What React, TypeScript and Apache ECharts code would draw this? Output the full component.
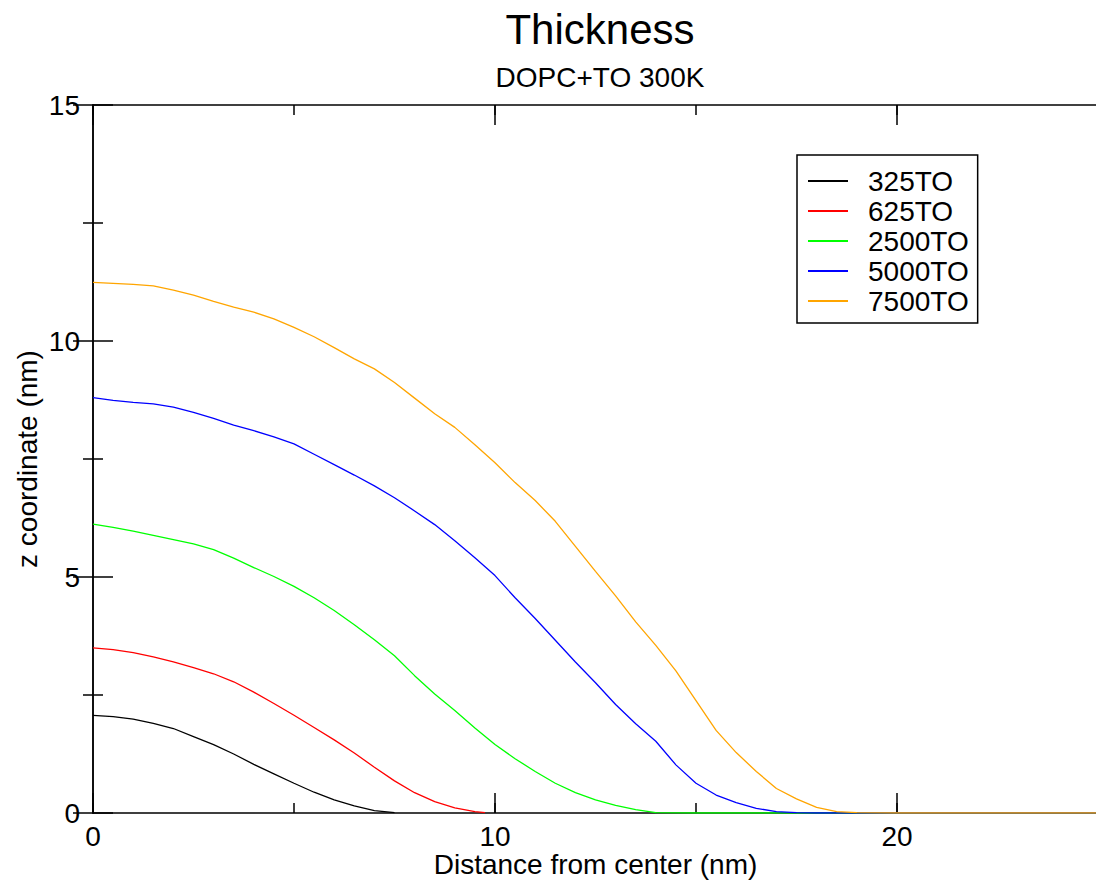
import React, { useEffect, useRef } from "react";
import * as echarts from "echarts";

const seriesNames = ["325TO", "625TO", "2500TO", "5000TO", "7500TO"];
const seriesColors = ["#000000", "#ff0000", "#00ff00", "#0000ff", "#ffa500"];

const data325: [number, number][] = [
  [0, 2.07], [0.5, 2.04], [1, 1.99], [1.5, 1.9], [2, 1.79], [2.5, 1.62], [3, 1.45],
  [3.5, 1.25], [4, 1.03], [4.5, 0.83], [5, 0.63], [5.5, 0.44], [6, 0.28], [6.5, 0.15],
  [7, 0.05], [7.5, 0.01],
];

const data625: [number, number][] = [
  [0, 3.5], [0.5, 3.46], [1, 3.4], [1.5, 3.31], [2, 3.2], [2.5, 3.08], [3, 2.95],
  [3.5, 2.78], [4, 2.56], [4.5, 2.32], [5, 2.07], [5.5, 1.81], [6, 1.55], [6.5, 1.27],
  [7, 0.97], [7.5, 0.68], [8, 0.43], [8.5, 0.24], [9, 0.11], [9.5, 0.03], [9.75, 0.01],
];

const data2500: [number, number][] = [
  [0, 6.12], [0.5, 6.05], [1, 5.97], [1.5, 5.88], [2, 5.79], [2.5, 5.7], [3, 5.58],
  [3.5, 5.4], [4, 5.2], [4.5, 5.01], [5, 4.8], [5.5, 4.56], [6, 4.29], [6.5, 3.99],
  [7, 3.67], [7.5, 3.33], [8, 2.91], [8.5, 2.52], [9, 2.17], [9.5, 1.8], [10, 1.45],
  [10.5, 1.15], [11, 0.88], [11.5, 0.63], [12, 0.43], [12.5, 0.28], [13, 0.16],
  [13.5, 0.07], [14, 0.01], [15, 0], [16, 0], [17, 0], [18, 0], [20, 0], [22, 0], [25, 0],
];

const data5000: [number, number][] = [
  [0, 8.8], [0.5, 8.74], [1, 8.7], [1.5, 8.67], [2, 8.6], [2.5, 8.49], [3, 8.36],
  [3.5, 8.22], [4, 8.1], [4.5, 7.97], [5, 7.82], [5.5, 7.6], [6, 7.38], [6.5, 7.16],
  [7, 6.93], [7.5, 6.68], [8, 6.4], [8.5, 6.11], [9, 5.77], [9.5, 5.41], [10, 5.03],
  [10.5, 4.56], [11, 4.12], [11.5, 3.66], [12, 3.2], [12.5, 2.76], [13, 2.3],
  [13.5, 1.89], [14, 1.52], [14.5, 1.02], [15, 0.63], [15.5, 0.38], [16, 0.22],
  [16.5, 0.1], [17, 0.03], [17.5, 0.01], [18, 0], [20, 0], [22, 0], [25, 0],
];

const data7500: [number, number][] = [
  [0, 11.24], [0.5, 11.22], [1, 11.2], [1.5, 11.17], [2, 11.08], [2.5, 10.97],
  [3, 10.84], [3.5, 10.72], [4, 10.61], [4.5, 10.47], [5, 10.29], [5.5, 10.09],
  [6, 9.86], [6.5, 9.62], [7, 9.41], [7.5, 9.12], [8, 8.79], [8.5, 8.46], [9, 8.17],
  [9.5, 7.8], [10, 7.42], [10.5, 7.0], [11, 6.62], [11.5, 6.18], [12, 5.65],
  [12.5, 5.12], [13, 4.6], [13.5, 4.05], [14, 3.55], [14.5, 3.01], [15, 2.38],
  [15.5, 1.75], [16, 1.28], [16.5, 0.88], [17, 0.52], [17.5, 0.3], [18, 0.12],
  [18.5, 0.03], [19, 0.01], [20, 0], [22, 0], [25, 0],
];

const allData = [data325, data625, data2500, data5000, data7500];

const xMin = 0;
const xMax = 25;
const yMin = 0;
const yMax = 15;

const FONT = "'Liberation Sans', Arial, Helvetica, sans-serif";

export default function App() {
  const ref = useRef<HTMLDivElement>(null);

  useEffect(() => {
    if (!ref.current) return;
    const chart = echarts.init(ref.current, undefined, { renderer: "svg" });

    const axisLineStyle = { color: "#000", width: 1.5 };

    const xBase = {
      type: "value" as const,
      min: xMin,
      max: xMax,
      splitLine: { show: false },
    };
    const yBase = {
      type: "value" as const,
      min: yMin,
      max: yMax,
      interval: 5,
      splitLine: { show: false },
    };

    chart.setOption({
      animation: false,
      backgroundColor: "#fff",
      textStyle: { fontFamily: FONT },
      title: [
        {
          text: "Thickness",
          left: 595,
          top: 3,
          textAlign: "center",
          textStyle: { fontSize: 42, fontWeight: "normal", color: "#000", fontFamily: FONT },
        },
        {
          text: "DOPC+TO 300K",
          left: 595,
          top: 58,
          textAlign: "center",
          textStyle: { fontSize: 28, fontWeight: "normal", color: "#000", fontFamily: FONT },
        },
      ],
      legend: {
        orient: "vertical",
        left: 797,
        top: 155,
        data: seriesNames,
        icon: "rect",
        itemWidth: 40,
        itemHeight: 2,
        itemGap: 0,
        padding: [11, 9, 7, 11],
        borderColor: "#000",
        borderWidth: 1.5,
        backgroundColor: "#fff",
        selectedMode: false,
        textStyle: {
          fontSize: 28,
          color: "#000",
          fontFamily: FONT,
          lineHeight: 30,
          padding: [0, 0, 0, 15],
        },
      },
      grid: {
        left: 93,
        top: 105,
        right: -2,
        bottom: 67,
        containLabel: false,
        outerBoundsMode: "none",
      },
      xAxis: [
        {
          ...xBase,
          position: "bottom",
          interval: 10,
          axisLine: { show: true, lineStyle: axisLineStyle },
          axisTick: { show: true, inside: true, length: 20, lineStyle: axisLineStyle },
          axisLabel: {
            show: true,
            fontSize: 28,
            color: "#000",
            fontFamily: FONT,
            margin: 9,
            showMaxLabel: false,
          },
          name: "Distance from center (nm)",
          nameLocation: "middle",
          nameGap: 37,
          nameMoveOverlap: false,
          nameTextStyle: { fontSize: 28, color: "#000", fontFamily: FONT },
        },
        {
          ...xBase,
          position: "bottom",
          interval: 5,
          axisLine: { show: false },
          axisTick: { show: true, inside: true, length: 10, lineStyle: axisLineStyle },
          axisLabel: { show: false },
        },
        {
          ...xBase,
          position: "top",
          interval: 10,
          axisLine: { show: true, lineStyle: axisLineStyle },
          axisTick: { show: true, inside: true, length: 20, lineStyle: axisLineStyle },
          axisLabel: { show: false },
        },
        {
          ...xBase,
          position: "top",
          interval: 5,
          axisLine: { show: false },
          axisTick: { show: true, inside: true, length: 10, lineStyle: axisLineStyle },
          axisLabel: { show: false },
        },
      ],
      yAxis: [
        {
          ...yBase,
          position: "left",
          axisLine: { show: true, lineStyle: axisLineStyle },
          axisTick: { show: true, inside: true, length: 20, lineStyle: axisLineStyle },
          minorTick: { show: true, splitNumber: 2, length: 10, lineStyle: axisLineStyle },
          axisLabel: { show: true, fontSize: 28, color: "#000", fontFamily: FONT, margin: 13 },
          name: "z coordinate (nm)",
          nameLocation: "middle",
          nameGap: 52,
          nameRotate: 90,
          nameMoveOverlap: false,
          nameTextStyle: { fontSize: 28, color: "#000", fontFamily: FONT },
        },
        {
          ...yBase,
          position: "right",
          axisLine: { show: true, lineStyle: axisLineStyle },
          axisTick: { show: true, inside: true, length: 20, lineStyle: axisLineStyle },
          minorTick: { show: true, splitNumber: 2, length: 10, lineStyle: axisLineStyle },
          axisLabel: { show: false },
        },
      ],
      series: seriesNames.map((name, i) => ({
        name,
        type: "line",
        xAxisIndex: 0,
        yAxisIndex: 0,
        data: allData[i],
        showSymbol: false,
        symbol: "none",
        smooth: false,
        color: seriesColors[i],
        lineStyle: { color: seriesColors[i], width: 1.3 },
        z: 3,
      })),
    });

    return () => {
      chart.dispose();
    };
  }, []);

  return (
    <div
      ref={ref}
      style={{ position: "absolute", left: 0, top: 0, width: 1096, height: 880, background: "#fff" }}
    />
  );
}
